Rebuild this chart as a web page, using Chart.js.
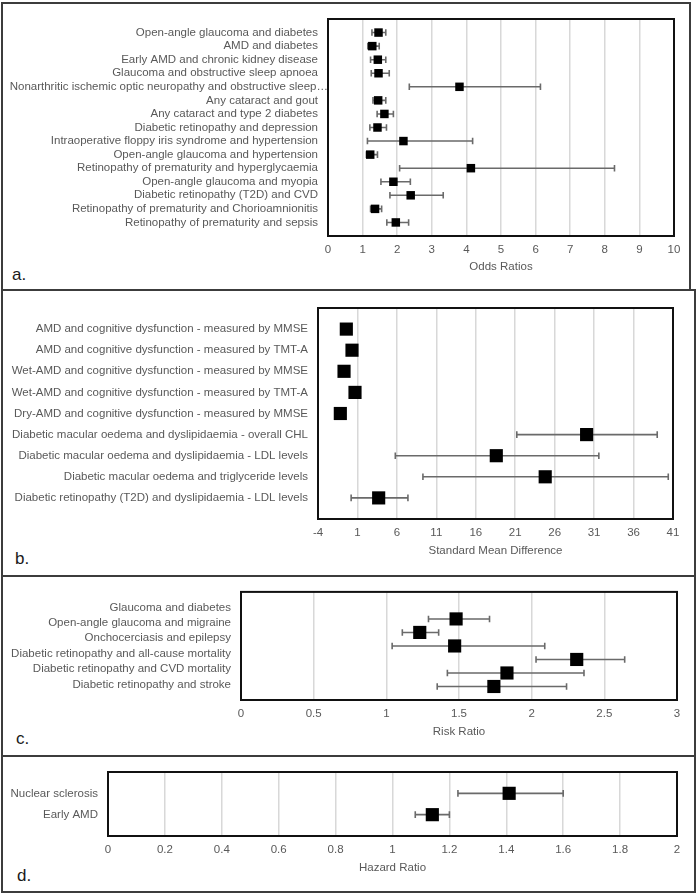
<!DOCTYPE html>
<html><head><meta charset="utf-8">
<script src="https://cdn.jsdelivr.net/npm/chart.js@4/dist/chart.umd.min.js"></script>
<style>
body{margin:0;background:#fff;width:698px;height:893px;position:relative;overflow:hidden;font-family:"Liberation Sans",Arial,sans-serif}
.panel{position:absolute;border:2px solid #3c3c3c;box-sizing:border-box}
canvas{position:absolute;left:0}
.lbl{position:absolute;font-size:17px;color:#1a1a1a;line-height:1;font-family:"Liberation Sans",Arial,sans-serif}
</style></head><body>
<div class="panel" style="left:1px;top:2px;width:690px;height:289px"></div>
<div class="panel" style="left:1px;top:289px;width:695px;height:288px"></div>
<div class="panel" style="left:1px;top:575px;width:695px;height:182px"></div>
<div class="panel" style="left:1px;top:755px;width:695px;height:138px"></div>
<div class="lbl" style="left:12px;top:266px">a.</div>
<div class="lbl" style="left:15px;top:550px">b.</div>
<div class="lbl" style="left:16px;top:730px">c.</div>
<div class="lbl" style="left:17px;top:867px">d.</div>
<script>
// ---- Panel a: Odds Ratios ----
const labelsA = [
  "Open-angle glaucoma and diabetes",
  "AMD and diabetes",
  "Early AMD and chronic kidney disease",
  "Glaucoma and obstructive sleep apnoea",
  "Nonarthritic ischemic optic neuropathy and obstructive sleep\u2026",
  "Any cataract and gout",
  "Any cataract and type 2 diabetes",
  "Diabetic retinopathy and depression",
  "Intraoperative floppy iris syndrome and hypertension",
  "Open-angle glaucoma and hypertension",
  "Retinopathy of prematurity and hyperglycaemia",
  "Open-angle glaucoma and myopia",
  "Diabetic retinopathy (T2D) and CVD",
  "Retinopathy of prematurity and Chorioamnionitis",
  "Retinopathy of prematurity and sepsis"
];
const oddsA  = [1.46, 1.28, 1.44, 1.46, 3.80, 1.45, 1.63, 1.43, 2.18, 1.22, 4.13, 1.89, 2.39, 1.36, 1.96];
const oddsLoA = [1.27, 1.15, 1.23, 1.25, 2.35, 1.30, 1.42, 1.21, 1.14, 1.11, 2.07, 1.53, 1.79, 1.23, 1.70];
const oddsHiA = [1.67, 1.48, 1.67, 1.77, 6.14, 1.67, 1.89, 1.69, 4.18, 1.43, 8.28, 2.38, 3.33, 1.55, 2.33];
const xTicksA = [0, 1, 2, 3, 4, 5, 6, 7, 8, 9, 10];

// ---- Panel b: Standard Mean Difference ----
const labelsB = [
  "AMD and cognitive dysfunction - measured by MMSE",
  "AMD and cognitive dysfunction - measured by TMT-A",
  "Wet-AMD and cognitive dysfunction - measured by MMSE",
  "Wet-AMD and cognitive dysfunction - measured by TMT-A",
  "Dry-AMD and cognitive dysfunction - measured by MMSE",
  "Diabetic macular oedema and dyslipidaemia - overall CHL",
  "Diabetic macular oedema and dyslipidaemia - LDL levels",
  "Diabetic macular oedema and triglyceride levels",
  "Diabetic retinopathy (T2D) and dyslipidaemia - LDL levels"
];
const smdB   = [-0.41, 0.31, -0.70, 0.69, -1.17, 30.05, 18.6, 24.8, 3.69];
const smdLoB = [null, null, null, null, null, 21.2, 5.8, 9.3, 0.2];
const smdHiB = [null, null, null, null, null, 39.0, 31.6, 40.4, 7.4];
const xTicksB = [-4, 1, 6, 11, 16, 21, 26, 31, 36, 41];

// ---- Panel c: Risk Ratio ----
const labelsC = [
  "Glaucoma and diabetes",
  "Open-angle glaucoma and migraine",
  "Onchocerciasis and epilepsy",
  "Diabetic retinopathy and all-cause mortality",
  "Diabetic retinopathy and CVD mortality",
  "Diabetic retinopathy and stroke"
];
const rrC   = [1.48, 1.23, 1.47, 2.31, 1.83, 1.74];
const rrLoC = [1.29, 1.11, 1.04, 2.03, 1.42, 1.35];
const rrHiC = [1.71, 1.36, 2.09, 2.64, 2.36, 2.24];
const xTicksC = [0, 0.5, 1, 1.5, 2, 2.5, 3];

// ---- Panel d: Hazard Ratio ----
const labelsD = ["Nuclear sclerosis", "Early AMD"];
const hrD   = [1.41, 1.14];
const hrLoD = [1.23, 1.08];
const hrHiD = [1.60, 1.20];
const xTicksD = [0, 0.2, 0.4, 0.6, 0.8, 1, 1.2, 1.4, 1.6, 1.8, 2];

const TXT = '#595959';
const FONT = {family: '"Liberation Sans", Arial, sans-serif', size: 11.5};

function build(o) {
  const cv = document.createElement('canvas');
  cv.width = 698; cv.height = o.height;
  cv.style.top = o.top + 'px';
  document.body.appendChild(cv);
  const useY2 = !!o.markerYMax;
  const errPlugin = {
    id: 'errbars',
    beforeDraw(chart) {
      // the truncated long label overflows toward the plot box, as in the original
      if (o.overflowIndex != null) {
        const ys = chart.scales.y;
        const items = ys.getLabelItems(chart.chartArea);
        const it = items[o.overflowIndex];
        if (it && !it._shifted) { it.options.translation[0] += o.overflowShift; it._shifted = true; }
      }
    },
    beforeDatasetsDraw(chart) {
      const ctx = chart.ctx, xs = chart.scales.x, ys = chart.scales[useY2 ? 'y2' : 'y'];
      ctx.save();
      ctx.strokeStyle = '#6a6a6a';
      ctx.lineWidth = 1.6;
      o.vals.forEach((v, i) => {
        if (o.lo[i] == null) return;
        const y = ys.getPixelForValue(i + 1 + o.shift);
        const x1 = xs.getPixelForValue(o.lo[i]), x2 = xs.getPixelForValue(o.hi[i]);
        ctx.beginPath();
        ctx.moveTo(x1, y); ctx.lineTo(x2, y);
        ctx.moveTo(x1, y - 3.3); ctx.lineTo(x1, y + 3.3);
        ctx.moveTo(x2, y - 3.3); ctx.lineTo(x2, y + 3.3);
        ctx.stroke();
      });
      ctx.restore();
    },
    afterDraw(chart) {
      const a = chart.chartArea, ctx = chart.ctx;
      ctx.save();
      ctx.strokeStyle = '#111';
      ctx.lineWidth = 2;
      ctx.strokeRect(a.left, a.top, a.right - a.left, a.bottom - a.top);
      ctx.restore();
    }
  };
  const scales = {
    x: {
      type: 'linear', min: o.xTicks[0], max: o.xTicks[o.xTicks.length - 1],
      afterBuildTicks: s => { s.ticks = o.xTicks.map(v => ({value: v})); },
      afterFit: s => { s.height = o.top + o.height - o.box.b; },
      grid: {color: '#d8d8d8', lineWidth: 1.5, drawTicks: false},
      border: {display: false},
      ticks: {padding: 6.8, color: TXT, font: FONT, autoSkip: false, maxRotation: 0,
              callback: v => String(+Number(v).toFixed(2))},
      title: {display: true, text: o.title, color: TXT, font: FONT, padding: {top: 0, bottom: o.titlePad}}
    },
    y: {
      type: 'linear', reverse: true, min: 0, max: o.yMax,
      afterBuildTicks: s => { s.ticks = o.labels.map((_, i) => ({value: i + 1})); },
      afterFit: s => { s.width = o.box.l; },
      grid: {display: false, drawTicks: false},
      border: {display: false},
      ticks: {padding: 10, color: TXT, font: FONT, autoSkip: false,
              callback: v => o.labels[Math.round(v) - 1] || ''}
    }
  };
  if (useY2) {
    scales.y2 = {type: 'linear', display: false, reverse: true, min: 0, max: o.markerYMax};
  }
  new Chart(cv, {
    type: 'scatter',
    data: {datasets: [{
      data: o.vals.map((v, i) => ({x: v, y: i + 1 + o.shift})),
      yAxisID: useY2 ? 'y2' : 'y',
      pointStyle: 'rect', pointRadius: o.radius, pointHoverRadius: o.radius,
      backgroundColor: '#000', borderColor: '#000', borderWidth: 0
    }]},
    options: {
      responsive: false, animation: false, events: [],
      layout: {padding: {top: o.box.t - o.top, right: 698 - o.box.r, left: 0, bottom: 0}},
      plugins: {legend: {display: false}, tooltip: {enabled: false}},
      scales
    },
    plugins: [errPlugin]
  });
}

build({top: 0, height: 290, box: {l: 328, r: 674, t: 19, b: 236},
  labels: labelsA, yMax: 16, vals: oddsA, lo: oddsLoA, hi: oddsHiA, shift: 0,
  xTicks: xTicksA, title: 'Odds Ratios', radius: 6, titlePad: 16.4,
  overflowIndex: 4, overflowShift: 10});
build({top: 290, height: 285, box: {l: 318, r: 673, t: 308, b: 519},
  labels: labelsB, yMax: 10, vals: smdB, lo: smdLoB, hi: smdHiB, shift: 0,
  xTicks: xTicksB, title: 'Standard Mean Difference', radius: 9.3, titlePad: 17});
build({top: 575, height: 180, box: {l: 241, r: 677, t: 591, b: 700},
  labels: labelsC, yMax: 7, markerYMax: 8, vals: rrC, lo: rrLoC, hi: rrHiC, shift: 1,
  xTicks: xTicksC, title: 'Risk Ratio', radius: 9.3, titlePad: 16.4});
build({top: 755, height: 138, box: {l: 108, r: 677, t: 772, b: 836},
  labels: labelsD, yMax: 3, vals: hrD, lo: hrLoD, hi: hrHiD, shift: 0,
  xTicks: xTicksD, title: 'Hazard Ratio', radius: 9.3, titlePad: 18});
</script>
</body></html>
